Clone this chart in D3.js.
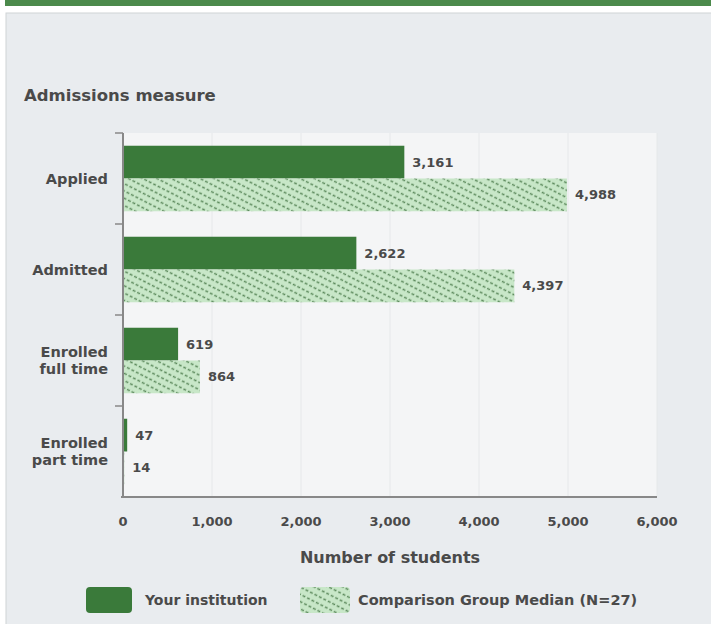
<!DOCTYPE html>
<html><head><meta charset="utf-8">
<script src="https://cdn.jsdelivr.net/npm/d3@7"></script>
<style>body{margin:0;background:#fff;}svg{display:block;font-family:"DejaVu Sans",sans-serif;}</style>
</head><body>
<svg id="c" width="711" height="624"></svg>
<script>
const categories = [["Applied"], ["Admitted"], ["Enrolled", "full time"], ["Enrolled", "part time"]];
const institution = [3161, 2622, 619, 47];
const comparison = [4988, 4397, 864, 14];
const xTicks = [0, 1000, 2000, 3000, 4000, 5000, 6000];
const seriesNames = ["Your institution", "Comparison Group Median (N=27)"];

const svg = d3.select("#c");
const defs = svg.append("defs");
const pat = defs.append("pattern").attr("id","hatch").attr("patternUnits","userSpaceOnUse")
  .attr("width",5).attr("height",6.5).attr("patternTransform","rotate(27)");
pat.append("rect").attr("width",5).attr("height",6.5).attr("fill","#c8e7c8");
pat.append("line").attr("x1",0).attr("y1",3.25).attr("x2",5).attr("y2",3.25)
  .attr("stroke","#5f8c5f").attr("stroke-width",1.5).attr("stroke-dasharray","3,2");

// top bar and panel
svg.append("rect").attr("x",5).attr("y",0).attr("width",706).attr("height",6).attr("fill","#4c8a4c");
svg.append("rect").attr("x",6).attr("y",13).attr("width",710).attr("height",620).attr("fill","#e9ecef").attr("stroke","#d0d3d6");

const m = {l:123, r:657, t:133, b:497};
const x = d3.scaleLinear().domain([0,6000]).range([m.l, m.r]);
const idx = d3.range(categories.length);
const y = d3.scaleBand().domain(idx).range([m.t, m.b]).paddingInner(0.28).paddingOuter(0.14);
const yOuter = d3.scaleBand().domain(idx).range([m.t, m.b]);

svg.append("rect").attr("x",m.l).attr("y",m.t).attr("width",m.r-m.l).attr("height",m.b-m.t).attr("fill","#f4f5f6");
svg.append("g").selectAll("line").data(xTicks.slice(1)).join("line")
  .attr("x1",d=>x(d)).attr("x2",d=>x(d)).attr("y1",m.t).attr("y2",m.b)
  .attr("stroke","#e6e8ea").attr("stroke-width",1);

const bh = y.bandwidth()/2;
const g = svg.append("g");
g.selectAll("rect.a").data(idx).join("rect").attr("class","a")
  .attr("x",x(0)).attr("y",i=>y(i)).attr("width",i=>x(institution[i])-x(0)).attr("height",bh)
  .attr("fill","#3a7a3a");
g.selectAll("rect.b").data(idx).join("rect").attr("class","b")
  .attr("x",x(0)).attr("y",i=>y(i)+bh).attr("width",i=>x(comparison[i])-x(0)).attr("height",bh)
  .attr("fill","url(#hatch)");

const fmt = d3.format(",");
const txt = "#4a4a4a";
g.selectAll("text.a").data(idx).join("text").attr("class","a")
  .attr("x",i=>x(institution[i])+8).attr("y",i=>y(i)+bh/2).attr("dy","0.35em")
  .attr("font-size",13).attr("font-weight","bold").attr("fill",txt).text(i=>fmt(institution[i]));
g.selectAll("text.b").data(idx).join("text").attr("class","b")
  .attr("x",i=>x(comparison[i])+8).attr("y",i=>y(i)+bh*1.5).attr("dy","0.35em")
  .attr("font-size",13).attr("font-weight","bold").attr("fill",txt).text(i=>fmt(comparison[i]));

// y axis
svg.append("line").attr("x1",m.l).attr("x2",m.l).attr("y1",m.t).attr("y2",m.b).attr("stroke","#888").attr("stroke-width",2);
svg.append("g").selectAll("line").data(idx).join("line")
  .attr("x1",m.l-8).attr("x2",m.l).attr("y1",i=>yOuter(i)).attr("y2",i=>yOuter(i)).attr("stroke","#888").attr("stroke-width",1.5);
const cl = svg.append("g").selectAll("text").data(idx).join("text")
  .attr("text-anchor","end").attr("font-size",14.5).attr("font-weight","bold").attr("fill",txt);
cl.each(function(i){
  const lines = categories[i];
  const cy = yOuter(i)+yOuter.bandwidth()/2;
  const t = d3.select(this);
  lines.forEach((s,k)=>{
    t.append("tspan").attr("x",108).attr("y",cy + (k-(lines.length-1)/2)*17).attr("dy","0.35em").text(s);
  });
});

// x axis
svg.append("line").attr("x1",m.l-2).attr("x2",m.r).attr("y1",m.b).attr("y2",m.b).attr("stroke","#888").attr("stroke-width",2);
svg.append("g").selectAll("text").data(xTicks).join("text")
  .attr("x",d=>x(d)).attr("y",526).attr("text-anchor","middle").attr("font-size",13).attr("font-weight","bold")
  .attr("fill",txt).text(d=>fmt(d));
svg.append("text").attr("x",390).attr("y",563).attr("text-anchor","middle").attr("font-size",16).attr("font-weight","bold")
  .attr("fill",txt).text("Number of students");
svg.append("text").attr("x",24).attr("y",101).attr("font-size",16.5).attr("font-weight","bold")
  .attr("fill",txt).text("Admissions measure");

// legend
svg.append("rect").attr("x",86).attr("y",587).attr("width",46).attr("height",26).attr("rx",4).attr("fill","#3a7a3a");
svg.append("text").attr("x",145).attr("y",600).attr("dy","0.35em").attr("font-size",14).attr("font-weight","bold").attr("fill",txt).text(seriesNames[0]);
svg.append("rect").attr("x",300).attr("y",587).attr("width",50).attr("height",26).attr("rx",4).attr("fill","url(#hatch)");
svg.append("text").attr("x",358).attr("y",600).attr("dy","0.35em").attr("font-size",14.5).attr("font-weight","bold").attr("fill",txt).text(seriesNames[1]);
</script>
</body></html>
